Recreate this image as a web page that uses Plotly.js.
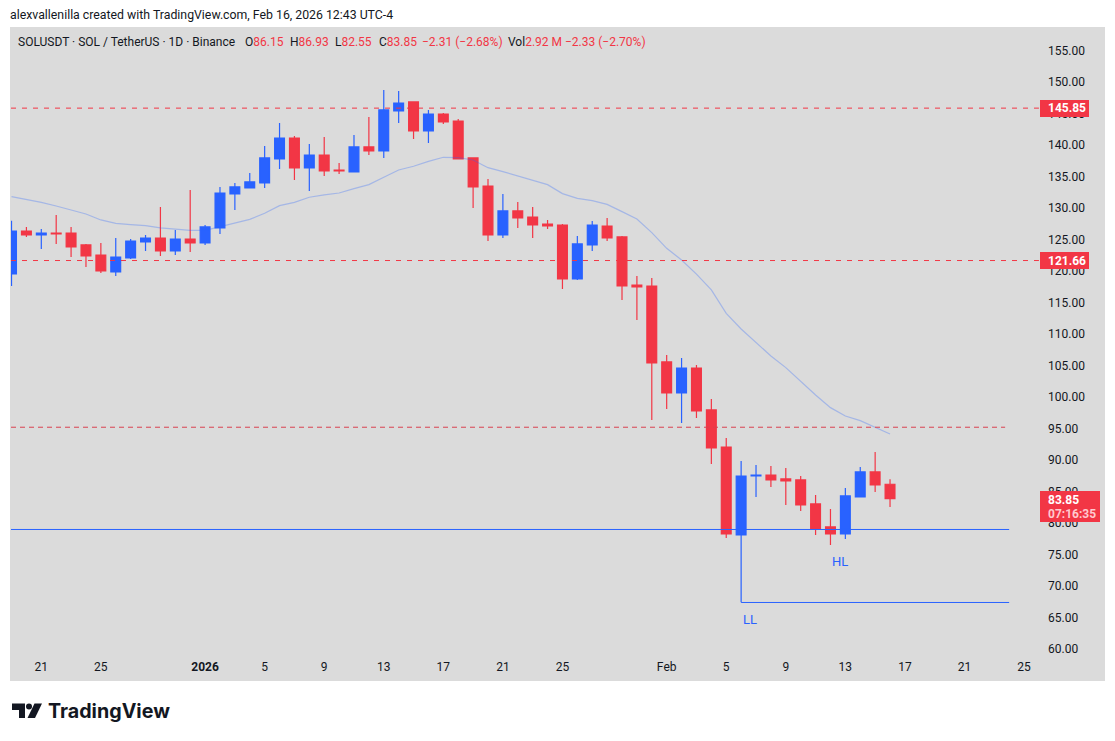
<!DOCTYPE html>
<html>
<head>
<meta charset="utf-8">
<script src="https://cdn.plot.ly/plotly-3.0.1.min.js"></script>
<style>html,body{margin:0;padding:0;background:#fff}#chart{width:1115px;height:741px}</style>
</head>
<body>
<div id="chart"></div>
<script>
const dates = ["2025-12-19","2025-12-20","2025-12-21","2025-12-22","2025-12-23","2025-12-24","2025-12-25","2025-12-26","2025-12-27","2025-12-28","2025-12-29","2025-12-30","2025-12-31",
"2026-01-01","2026-01-02","2026-01-03","2026-01-04","2026-01-05","2026-01-06","2026-01-07","2026-01-08","2026-01-09","2026-01-10","2026-01-11","2026-01-12","2026-01-13","2026-01-14","2026-01-15","2026-01-16","2026-01-17","2026-01-18","2026-01-19","2026-01-20","2026-01-21","2026-01-22","2026-01-23","2026-01-24","2026-01-25","2026-01-26","2026-01-27","2026-01-28","2026-01-29","2026-01-30","2026-01-31",
"2026-02-01","2026-02-02","2026-02-03","2026-02-04","2026-02-05","2026-02-06","2026-02-07","2026-02-08","2026-02-09","2026-02-10","2026-02-11","2026-02-12","2026-02-13","2026-02-14","2026-02-15","2026-02-16"];
const opens = [119.53,126.35,125.72,126.03,126.03,124.13,122.54,119.84,122.07,124.61,125.24,123.18,125.08,
124.45,126.83,132.22,133.18,133.97,137.78,141.11,136.35,138.41,136.03,135.72,139.69,139.05,145.40,146.83,142.22,144.92,143.81,137.94,133.49,125.72,129.53,128.57,127.46,127.30,118.73,124.13,127.14,125.40,117.78,117.62,
105.56,100.64,104.60,97.94,92.06,78.10,87.46,87.62,86.99,86.83,83.02,79.37,78.25,84.13,88.10,86.15];
const highs = [127.99,126.99,126.67,128.89,126.99,124.29,124.45,125.24,125.08,125.72,130.16,126.51,132.86,
127.30,133.34,133.97,135.56,139.84,143.49,141.43,140.16,141.27,137.15,141.59,144.45,148.73,148.57,146.83,145.56,145.08,144.13,137.94,134.61,132.22,130.95,130.16,128.10,127.46,125.56,127.94,128.41,125.56,119.21,118.89,
106.67,106.19,105.08,99.68,93.49,89.84,89.21,89.05,88.73,87.46,84.45,82.22,85.56,88.89,91.27,86.93];
const lows = [117.62,125.40,123.49,124.29,122.22,120.64,119.69,119.21,121.91,123.18,122.38,122.54,123.02,
124.13,125.88,129.69,133.18,133.18,136.19,134.45,132.70,135.08,135.40,135.72,138.41,137.94,143.49,140.95,140.32,143.34,137.78,130.00,124.76,125.24,126.83,125.24,126.67,117.14,118.57,123.18,124.76,115.40,112.22,96.35,
98.10,95.87,96.67,89.37,77.62,67.40,84.13,85.72,82.86,81.91,78.10,76.51,77.46,84.13,84.92,82.55];
const closes = [126.35,125.72,126.03,125.88,123.81,122.38,120.00,122.22,124.76,125.24,123.18,125.08,124.45,
126.99,132.38,133.34,134.13,137.94,141.11,136.35,138.41,135.88,135.88,139.69,139.05,145.56,146.67,142.22,144.92,143.65,137.78,133.34,125.72,129.53,128.41,127.30,127.14,118.73,124.29,127.30,125.24,117.62,117.46,105.40,
100.64,104.60,97.78,91.91,78.25,87.46,87.62,86.83,86.67,82.86,79.05,78.25,84.29,88.10,86.03,83.85];
const maValues = [131.80,131.38,130.90,130.32,129.69,129.05,128.10,127.57,127.36,127.20,126.83,126.62,126.46,
126.46,127.04,127.67,128.20,129.16,130.37,130.90,131.70,132.07,132.38,133.07,133.71,134.87,136.03,136.62,137.41,138.05,138.00,137.62,136.40,135.77,135.08,134.39,133.71,132.28,131.54,131.17,130.58,129.42,128.26,126.09,
123.60,121.75,119.50,116.99,113.28,110.80,108.63,106.51,104.66,102.43,100.32,98.31,96.99,96.24,95.13,94.13];

const xTickDates = ["2025-12-21","2025-12-25","2026-01-01","2026-01-05","2026-01-09","2026-01-13","2026-01-17","2026-01-21","2026-01-25","2026-02-01","2026-02-05","2026-02-09","2026-02-13","2026-02-17","2026-02-21","2026-02-25"];
const xTickLabels = ["21","25","<b>2026</b>","5","9","13","17","21","25","Feb","5","9","13","17","21","25"];
const yTickValues = [155,150,145,140,135,130,125,120,115,110,105,100,95,90,85,80,75,70,65,60];
const yTickLabels = yTickValues.map(v => v.toFixed(2));

const resistanceHigh = 145.85, resistanceMid = 121.66, levelDashed = 95.2, levelSupport = 78.97, levelLL = 67.38;

const RED = "#F23645", BLUE = "#2962FF", INK = "#131722", PANEL = "#DBDBDB";
const L = 11, R = 1105, T = 27, B = 652;
const px = x => (x - L) / (R - L);
const py = y => (B - y) / (B - T);

const candles = {
  type: "candlestick", x: dates, open: opens, high: highs, low: lows, close: closes,
  increasing: {line: {color: BLUE, width: 1.2}, fillcolor: BLUE},
  decreasing: {line: {color: RED, width: 1.2}, fillcolor: RED},
  whiskerwidth: 0, hoverinfo: "skip", showlegend: false
};
const ma = {
  type: "scatter", mode: "lines", x: dates, y: maValues,
  line: {color: "rgba(41,98,255,0.3)", width: 1.2}, hoverinfo: "skip", showlegend: false
};

const hline = (y, x0, x1, color, dash, width) => ({
  type: "line", xref: "x", yref: "y", x0, x1, y0: y, y1: y,
  line: {color, dash: dash, width}, layer: "above"
});
const rect = (x0, y0, x1, y1, color, layer) => ({
  type: "rect", xref: "paper", yref: "paper", x0: px(x0), x1: px(x1), y0: py(y1), y1: py(y0),
  fillcolor: color, line: {width: 0}, layer: layer || "above"
});
const poly = (pts, color) => ({
  type: "path", xref: "paper", yref: "paper",
  path: "M" + pts.map(p => px(p[0]) + "," + py(p[1])).join("L") + "Z",
  fillcolor: color, line: {width: 0}, layer: "above"
});

const shapes = [
  rect(10, 27, 1105, 681, PANEL, "below"),
  hline(resistanceHigh, "2025-12-18 23:10", "2026-02-26 00:00", RED, "5px 6px", 1),
  hline(resistanceMid, "2025-12-18 23:10", "2026-02-26 00:00", RED, "5px 6px", 1),
  hline(levelDashed, "2025-12-18 23:10", "2026-02-23 17:30", "#D94050", "5px 4px", 1),
  hline(levelSupport, "2025-12-18 23:10", "2026-02-24 00:00", BLUE, "solid", 1),
  hline(levelLL, "2026-02-06", "2026-02-24 00:00", BLUE, "solid", 1),
  poly([[12,703.5],[25,703.5],[25,718],[19,718],[19,710],[12,710]], "#131722"),
  {type:"circle", xref:"paper", yref:"paper", x0:px(26), x1:px(32), y0:py(709.5), y1:py(703.5), fillcolor:"#131722", line:{width:0}, layer:"above"},
  poly([[34.5,703.5],[42,703.5],[35,718],[27.5,718]], "#131722"),
  rect(1040, 100, 1089, 117, RED),
  rect(1040, 252, 1089, 269, RED),
  rect(1040, 491, 1100, 522, RED)
];

const note = (x, y, text, opts) => Object.assign({
  xref: "paper", yref: "paper", x: px(x), y: py(y), text, showarrow: false,
  xanchor: "left", yanchor: "middle", align: "left",
  font: {family: "Roboto, sans-serif", size: 12, color: INK}, borderpad: 0, borderwidth: 0
}, opts || {});
const redSpan = t => `<span style="color:${RED}">${t}</span>`;
const badgeFont = {family: "Roboto, sans-serif", size: 12, color: "#FFFFFF"};

const annotations = [
  note(10, 15, "alexvallenilla created with TradingView.com, Feb 16, 2026 12:43 UTC-4", {font: {family: "Roboto, sans-serif", size: 12.3, color: INK}}),
  note(18, 42, "SOLUSDT · SOL / TetherUS · 1D · Binance"),
  note(245, 42, "O" + redSpan("86.15")),
  note(290, 42, "H" + redSpan("86.93")),
  note(335, 42, "L" + redSpan("82.55")),
  note(379, 42, "C" + redSpan("83.85")),
  note(422, 42, redSpan("−2.31 (−2.68%)")),
  note(508, 42, "Vol" + redSpan("2.92 M")),
  note(565, 42, redSpan("−2.33 (−2.70%)")),
  note(48, 711, "<b>TradingView</b>", {font: {family: "Inter, sans-serif", size: 19.7, color: INK}}),
  note(750, 619, "LL", {xanchor: "center", font: {family: "Roboto, sans-serif", size: 13, color: BLUE}}),
  note(840, 561, "HL", {xanchor: "center", font: {family: "Roboto, sans-serif", size: 13, color: BLUE}}),
  note(1048, 108.5, "<b>145.85</b>", {font: badgeFont}),
  note(1048, 260.5, "<b>121.66</b>", {font: badgeFont}),
  note(1048, 499.5, "<b>83.85</b>", {font: badgeFont}),
  note(1048, 513.5, "<b>07:16:35</b>", {font: {family: "Roboto, sans-serif", size: 12, color: "#FFC9CE"}})
];

const layout = {
  width: 1115, height: 741,
  margin: {l: L, r: 1115 - R, t: T, b: 741 - B, pad: 0},
  paper_bgcolor: "#FFFFFF", plot_bgcolor: "rgba(0,0,0,0)",
  showlegend: false, dragmode: false,
  boxgap: 0.34, boxgroupgap: 0,
  xaxis: {
    type: "date", range: ["2025-12-18 23:10", "2026-03-02 10:30"],
    tickmode: "array", tickvals: xTickDates, ticktext: xTickLabels,
    showgrid: false, zeroline: false, showline: false, ticks: "",
    ticklabelstandoff: 6,
    tickfont: {family: "Roboto, sans-serif", size: 12, color: INK},
    rangeslider: {visible: false}, fixedrange: true, automargin: false
  },
  yaxis: {
    range: [59.52, 158.73], anchor: "free", position: px(1009), side: "right",
    tickmode: "array", tickvals: yTickValues, ticktext: yTickLabels,
    showgrid: false, zeroline: false, showline: false, ticks: "",
    ticklabelstandoff: 38,
    tickfont: {family: "Roboto, sans-serif", size: 12, color: INK},
    fixedrange: true, automargin: false
  },
  shapes, annotations
};
Plotly.newPlot("chart", [candles, ma], layout, {displayModeBar: false, staticPlot: true});
</script>
</body>
</html>
